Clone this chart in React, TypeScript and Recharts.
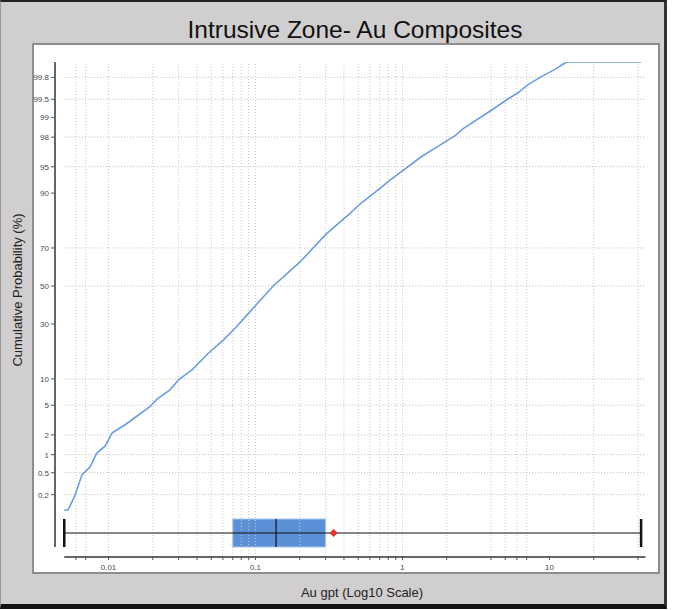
import React from "react";
import {
  ComposedChart,
  Line,
  XAxis,
  YAxis,
  ReferenceLine,
  ReferenceArea,
  ReferenceDot,
} from "recharts";

// cumulative probability curve
const auGpt = [
  0.005, 0.0053, 0.0059, 0.0066, 0.0075, 0.0083, 0.0095, 0.0106, 0.0129, 0.016,
  0.0191, 0.0213, 0.0262, 0.0302, 0.0368, 0.0478, 0.053, 0.0604, 0.0726, 0.0918,
  0.0993, 0.132, 0.201, 0.302, 0.44, 0.514, 0.703, 0.822, 0.914, 1.35, 1.8, 2.28,
  2.59, 4.05, 5.12, 6.14, 7.07, 8.62, 10.9, 12.4, 13.1, 42,
];
const cumProb = [
  0.1, 0.1, 0.19, 0.46, 0.63, 1.05, 1.37, 2.15, 2.76, 3.76, 4.8, 5.9, 7.6, 9.9,
  12.3, 17.7, 19.9, 22.8, 28.0, 36.2, 39.1, 50, 63.0, 76.3, 84.2, 87.1, 91.1, 92.8,
  93.7, 96.3, 97.4, 98.1, 98.5, 99.24, 99.49, 99.62, 99.72, 99.8, 99.86, 99.89,
  99.9, 99.9,
];

// box plot stats (Au gpt)
const boxStats = { min: 0.005, q1: 0.07, median: 0.138, q3: 0.3, max: 42 };
const meanValue = 0.34;

// axis ticks / grid
const yTickProbs = [99.8, 99.5, 99, 98, 95, 90, 70, 50, 30, 10, 5, 2, 1, 0.5, 0.2];
const yTickLabels = ["99.8", "99.5", "99", "98", "95", "90", "70", "50", "30", "10", "5", "2", "1", "0.5", "0.2"];
const yGridProbs = [99.8, 99.5, 98, 95, 70, 50, 10, 5, 2, 1, 0.5, 0.2];
const xGridValues = [
  0.006, 0.007, 0.01, 0.02, 0.03, 0.04, 0.05, 0.06, 0.07, 0.08, 0.09, 0.1, 0.2, 0.3,
  0.4, 0.5, 0.6, 0.7, 0.8, 0.9, 1, 2, 4, 5, 6, 7, 20, 40,
];
const xTickValues = [
  0.006, 0.007, 0.01, 0.02, 0.03, 0.04, 0.05, 0.06, 0.07, 0.08, 0.09, 0.1, 0.2, 0.3,
  0.4, 0.5, 0.6, 0.7, 0.8, 0.9, 1, 2, 4, 5, 6, 7, 10, 20, 40,
];
const xMajorValues = [0.01, 0.1, 1, 10];
const xMajorLabels = ["0.01", "0.1", "1", "10"];

// inverse normal cdf (Acklam) for the probability scale
function probit(p: number): number {
  const a = [-39.69683028665376, 220.9460984245205, -275.9285104469687, 138.357751867269, -30.66479806614716, 2.506628277459239];
  const b = [-54.47609879822406, 161.5858368580409, -155.6989798598866, 66.80131188771972, -13.28068155288572];
  const c = [-0.007784894002430293, -0.3223964580411365, -2.400758277161838, -2.549732539343734, 4.374664141464968, 2.938163982698783];
  const d = [0.007784695709041462, 0.3224671290700398, 2.445134137142996, 3.754408661907416];
  const plow = 0.02425;
  const tail = (q: number) =>
    (((((c[0] * q + c[1]) * q + c[2]) * q + c[3]) * q + c[4]) * q + c[5]) /
    ((((d[0] * q + d[1]) * q + d[2]) * q + d[3]) * q + 1);
  if (p < plow) return tail(Math.sqrt(-2 * Math.log(p)));
  if (p > 1 - plow) return -tail(Math.sqrt(-2 * Math.log(1 - p)));
  const q = p - 0.5;
  const r = q * q;
  return (
    ((((((a[0] * r + a[1]) * r + a[2]) * r + a[3]) * r + a[4]) * r + a[5]) * q) /
    (((((b[0] * r + b[1]) * r + b[2]) * r + b[3]) * r + b[4]) * r + 1)
  );
}

const curveData = auGpt.map((v, i) => ({ au: v, z: probit(cumProb[i] / 100) }));
const yTickZ = yTickProbs.map((p) => probit(p / 100));

const X_MIN = 0.004325;
const X_MAX = 46.8;
const Z_MIN = -3.738;
const Z_MAX = 3.09;
// box band, in probit units
const BOX_LOW = -3.6;
const BOX_HIGH = -3.214;
const BOX_MID = (BOX_LOW + BOX_HIGH) / 2;
const LINE_START = 0.005;
const LINE_END = 45;

const font = "'Liberation Sans', Arial, sans-serif";
const tickStyle = { fontSize: 8, fill: "#4a4a4a", fontFamily: font };

const fmtX = (v: number) => {
  const i = xMajorValues.findIndex((m) => Math.abs(m - v) / m < 1e-6);
  return i >= 0 ? xMajorLabels[i] : "";
};
const fmtY = (v: number) => {
  const i = yTickZ.findIndex((z) => Math.abs(z - v) < 1e-6);
  return i >= 0 ? yTickLabels[i] : "";
};

const Diamond = (props: any) => {
  const { cx, cy } = props;
  const s = 4;
  return (
    <polygon
      points={`${cx},${cy - s} ${cx + s},${cy} ${cx},${cy + s} ${cx - s},${cy}`}
      fill="#e8322b"
    />
  );
};

export default function App() {
  return (
    <div style={{ position: "absolute", left: 0, top: 0, width: 677, height: 610, background: "#fff" }}>
      {/* grey frame */}
      <div
        style={{
          position: "absolute",
          left: 0,
          top: 0,
          width: 667,
          height: 609,
          boxSizing: "border-box",
          background: "#d0cece",
          borderTop: "2px solid #222",
          borderRight: "3px solid #333",
          borderBottom: "5px solid #111",
          borderLeft: "1px solid #999",
        }}
      />
      {/* white plot panel */}
      <div
        style={{
          position: "absolute",
          left: 32,
          top: 43,
          width: 628,
          height: 531,
          boxSizing: "border-box",
          background: "#fff",
          border: "2px solid #8e8e8e",
        }}
      />
      <div
        style={{
          position: "absolute",
          left: 0,
          top: 16,
          width: 710,
          textAlign: "center",
          fontFamily: font,
          fontSize: 24.5,
          lineHeight: "28px",
          color: "#111",
        }}
      >
        Intrusive Zone- Au Composites
      </div>
      <div
        style={{
          position: "absolute",
          left: 17,
          top: 290,
          transform: "translate(-50%, -50%) rotate(-90deg)",
          whiteSpace: "nowrap",
          fontFamily: font,
          fontSize: 13,
          color: "#222",
        }}
      >
        Cumulative Probability (%)
      </div>
      <div
        style={{
          position: "absolute",
          left: 362,
          top: 592,
          transform: "translate(-50%, -50%)",
          whiteSpace: "nowrap",
          fontFamily: font,
          fontSize: 13,
          color: "#222",
        }}
      >
        Au gpt (Log10 Scale)
      </div>

      <div style={{ position: "absolute", left: 0, top: 0 }}>
        <ComposedChart
          width={677}
          height={610}
          data={curveData}
          margin={{ top: 62, right: 29, bottom: 33, left: 0 }}
        >
          <XAxis
            dataKey="au"
            type="number"
            scale="log"
            domain={[X_MIN, X_MAX]}
            allowDataOverflow
            ticks={xTickValues}
            interval={0}
            tickFormatter={fmtX}
            axisLine={false}
            tickLine={{ stroke: "#555" }}
            tickSize={3}
            tickMargin={4}
            height={20}
            tick={tickStyle}
          />
          <YAxis
            type="number"
            domain={[Z_MIN, Z_MAX]}
            allowDataOverflow
            ticks={yTickZ}
            interval={0}
            tickFormatter={fmtY}
            axisLine={false}
            tickLine={{ stroke: "#555" }}
            tickSize={4}
            tickMargin={2}
            width={55}
            tick={tickStyle}
          />

          {/* grid */}
          {xGridValues.map((v) => (
            <ReferenceLine
              key={`gx${v}`}
              x={v}
              stroke="#c9c9c9"
              strokeDasharray="1 2"
              ifOverflow="visible"
            />
          ))}
          {yGridProbs.map((p) => (
            <ReferenceLine
              key={`gy${p}`}
              segment={[
                { x: LINE_START, y: probit(p / 100) },
                { x: LINE_END, y: probit(p / 100) },
              ]}
              stroke="#b8b8b8"
              strokeDasharray="1 2"
              ifOverflow="visible"
            />
          ))}

          <Line
            dataKey="z"
            type="linear"
            stroke="#6a9ee2"
            strokeWidth={1.6}
            dot={false}
            isAnimationActive={false}
          />

          {/* box plot */}
          <ReferenceLine
            segment={[
              { x: boxStats.min, y: BOX_MID },
              { x: boxStats.max, y: BOX_MID },
            ]}
            stroke="#111"
            strokeWidth={1.2}
            ifOverflow="visible"
          />
          <ReferenceLine
            segment={[
              { x: boxStats.min, y: BOX_LOW },
              { x: boxStats.min, y: BOX_HIGH },
            ]}
            stroke="#111"
            strokeWidth={2.5}
            ifOverflow="visible"
          />
          <ReferenceLine
            segment={[
              { x: boxStats.max, y: BOX_LOW },
              { x: boxStats.max, y: BOX_HIGH },
            ]}
            stroke="#111"
            strokeWidth={2.5}
            ifOverflow="visible"
          />
          <ReferenceArea
            x1={boxStats.q1}
            x2={boxStats.q3}
            y1={BOX_LOW}
            y2={BOX_HIGH}
            fill="#5b90d6"
            fillOpacity={1}
            stroke="#a8c5ee"
            strokeWidth={1}
            ifOverflow="visible"
          />
          <ReferenceLine
            segment={[
              { x: boxStats.median, y: BOX_LOW },
              { x: boxStats.median, y: BOX_HIGH },
            ]}
            stroke="#111"
            strokeWidth={1.2}
            ifOverflow="visible"
          />
          <ReferenceDot
            x={meanValue}
            y={BOX_MID}
            r={4}
            shape={Diamond}
            ifOverflow="visible"
          />

          {/* axis lines */}
          <ReferenceLine
            segment={[
              { x: X_MIN, y: BOX_LOW },
              { x: X_MIN, y: Z_MAX },
            ]}
            stroke="#333"
            strokeWidth={1.5}
            ifOverflow="visible"
          />
          <ReferenceLine
            segment={[
              { x: LINE_START, y: Z_MIN },
              { x: LINE_END, y: Z_MIN },
            ]}
            stroke="#333"
            strokeWidth={1.5}
            ifOverflow="visible"
          />
        </ComposedChart>
      </div>
    </div>
  );
}
